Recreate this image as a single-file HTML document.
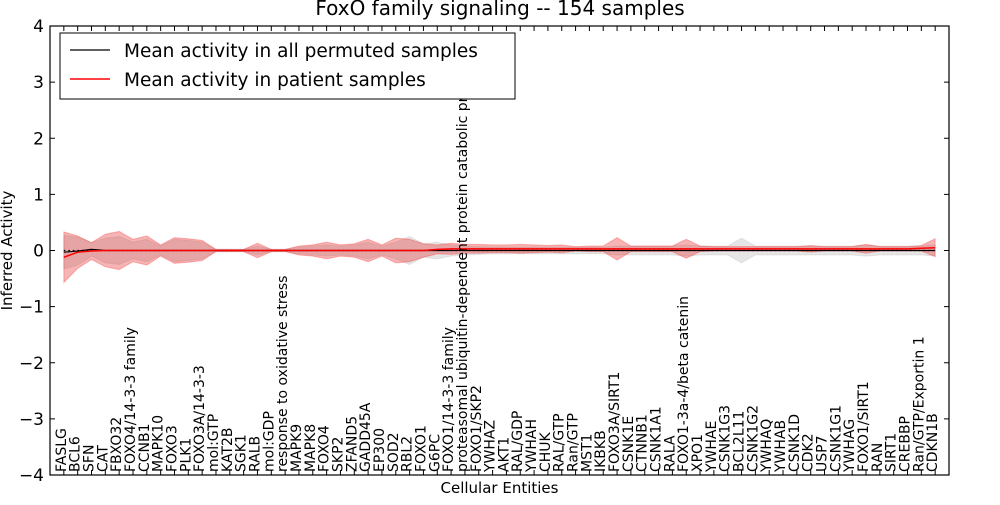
<!DOCTYPE html>
<html><head><meta charset="utf-8"><style>
body{margin:0;background:#fff;}
svg{font-family:"DejaVu Sans","Liberation Sans",sans-serif;}
</style></head><body>
<svg id="chart" width="1000" height="500">
<rect x="0" y="0" width="1000" height="500" fill="#fff"/>
<text x="500" y="15" text-anchor="middle" font-size="20">FoxO family signaling -- 154 samples</text>
<g id="plot"></g>
</svg>
<script>
const categories=["FASLG","BCL6","SFN","CAT","FBXO32","FOXO4/14-3-3 family","CCNB1","MAPK10","FOXO3","PLK1","FOXO3A/14-3-3","mol:GTP","KAT2B","SGK1","RALB","mol:GDP","response to oxidative stress","MAPK9","MAPK8","FOXO4","SKP2","ZFAND5","GADD45A","EP300","SOD2","RBL2","FOXO1","G6PC","FOXO1/14-3-3 family","proteasomal ubiquitin-dependent protein catabolic pr","FOXO1/SKP2","YWHAZ","AKT1","RAL/GDP","YWHAH","CHUK","RAL/GTP","Ran/GTP","MST1","IKBKB","FOXO3A/SIRT1","CSNK1E","CTNNB1","CSNK1A1","RALA","FOXO1-3a-4/beta catenin","XPO1","YWHAE","CSNK1G3","BCL2L11","CSNK1G2","YWHAQ","YWHAB","CSNK1D","CDK2","USP7","CSNK1G1","YWHAG","FOXO1/SIRT1","RAN","SIRT1","CREBBP","Ran/GTP/Exportin 1","CDKN1B"];
const patientMean=[-0.12,-0.03,-0.01,0,0,0,0,0,0,0,0,0,0,0,0,0,0,0,0,0,0,0,0,0,0,0,0,0.02,0.03,0.03,0.03,0.03,0.03,0.03,0.03,0.03,0.03,0.03,0.03,0.03,0.03,0.03,0.03,0.03,0.03,0.03,0.03,0.03,0.03,0.03,0.03,0.03,0.03,0.03,0.03,0.03,0.03,0.03,0.03,0.03,0.03,0.03,0.04,0.05];
const patientStd=[0.45,0.29,0.15,0.29,0.34,0.2,0.26,0.1,0.23,0.21,0.18,0.02,0.02,0.02,0.13,0.02,0.02,0.08,0.1,0.15,0.1,0.12,0.2,0.1,0.22,0.2,0.12,0.08,0.1,0.08,0.08,0.07,0.07,0.08,0.07,0.06,0.07,0.04,0.05,0.05,0.2,0.05,0.05,0.05,0.05,0.17,0.05,0.04,0.04,0.04,0.04,0.04,0.04,0.04,0.06,0.04,0.04,0.04,0.08,0.04,0.04,0.04,0.05,0.16];
const permMean=[-0.03,-0.01,0.02,0,0,0,0,0,0,0,0,0,0,0,0,0,0,0,0,0,0,0,0,0,0,0,0,0,0,0,0,0,0,0,0,0,0,0,0,0,0,0,0,0,0,0,0,0,0,0,0,0,0,0,0,0,0,0,0,0,0,0,0,0];
const permStd=[0.3,0.25,0.12,0.22,0.25,0.15,0.2,0.08,0.2,0.18,0.15,0.02,0.02,0.02,0.08,0.02,0.02,0.06,0.08,0.1,0.08,0.1,0.15,0.08,0.15,0.25,0.12,0.15,0.1,0.08,0.07,0.06,0.06,0.06,0.06,0.06,0.06,0.06,0.06,0.06,0.08,0.08,0.08,0.08,0.08,0.1,0.08,0.08,0.08,0.22,0.08,0.08,0.08,0.08,0.08,0.08,0.08,0.08,0.1,0.08,0.08,0.08,0.08,0.1];
const yTicks=[-4,-3,-2,-1,0,1,2,3,4];

const L=50,R=949,T=26,B=475;
const NS="http://www.w3.org/2000/svg";
const g=document.getElementById('plot');
const xs=i=>L+(i+1)*(R-L)/(categories.length+1);
const ys=v=>T+(4-v)*(B-T)/8;
function mk(tag,attrs,parent){const e=document.createElementNS(NS,tag);for(const k in attrs)e.setAttribute(k,attrs[k]);(parent||g).appendChild(e);return e;}
function band(mean,std){let up=mean.map((m,i)=>xs(i)+','+ys(m+std[i]));let lo=mean.map((m,i)=>xs(i)+','+ys(m-std[i])).reverse();return up.concat(lo).join(' ');}
const gb=mk('polygon',{points:band(permMean,permStd),fill:'rgba(128,128,128,0.2)',stroke:'rgba(128,128,128,0.15)'});


const rb=mk('polygon',{points:band(patientMean,patientStd),fill:'rgba(230,40,40,0.35)',stroke:'rgba(255,0,0,0.25)'});


const zl=mk('line',{x1:xs(0),x2:xs(categories.length-1),y1:ys(0),y2:ys(0),stroke:'#000','stroke-dasharray':'1.5,3','stroke-width':1.2});


const bl=mk('polyline',{points:permMean.map((m,i)=>xs(i)+','+ys(m)).join(' '),fill:'none',stroke:'#000','stroke-width':1.2});


const rl=mk('polyline',{points:patientMean.map((m,i)=>xs(i)+','+ys(m)).join(' '),fill:'none',stroke:'#f00','stroke-width':1.5});


const box=mk('rect',{x:L,y:T,width:R-L,height:B-T,fill:'none',stroke:'#000','stroke-width':1.2});


yTicks.forEach(v=>{
  const y=ys(v);
  mk('line',{x1:L,x2:L+5,y1:y,y2:y,stroke:'#000'});
  mk('line',{x1:R-5,x2:R,y1:y,y2:y,stroke:'#000'});
  const t=mk('text',{x:L-6,y:y+6,'text-anchor':'end','font-size':17});
  t.textContent=(v<0?'\u2212'+(-v):String(v));
  
  
});
categories.forEach((c,i)=>{
  const x=xs(i);
  mk('line',{x1:x,x2:x,y1:B,y2:B-5,stroke:'#000'});
  mk('line',{x1:x,x2:x,y1:T,y2:T+5,stroke:'#000'});
  const t=mk('text',{x:0,y:0,transform:`translate(${x+2},${B-3}) rotate(-90)`,'font-size':14});
  t.textContent=c;
  
  
});
const xt=mk('text',{x:(L+R)/2,y:493,'text-anchor':'middle','font-size':15});
xt.textContent='Cellular Entities';


const yt=mk('text',{x:0,y:0,transform:`translate(12,${ys(0)}) rotate(-90)`,'text-anchor':'middle','font-size':15});
yt.textContent='Inferred Activity';


const lg=mk('g',{});


mk('rect',{x:60,y:33,width:455,height:66,fill:'#fff',stroke:'#000'},lg);
mk('line',{x1:70,x2:110,y1:50,y2:50,stroke:'#000','stroke-width':1.2},lg);
mk('line',{x1:70,x2:110,y1:79,y2:79,stroke:'#f00','stroke-width':1.5},lg);
const l1=mk('text',{x:124,y:57,'font-size':18.5},lg);
l1.textContent='Mean activity in all permuted samples';


const l2=mk('text',{x:124,y:86,'font-size':18.5},lg);
l2.textContent='Mean activity in patient samples';


</script>
</body></html>
